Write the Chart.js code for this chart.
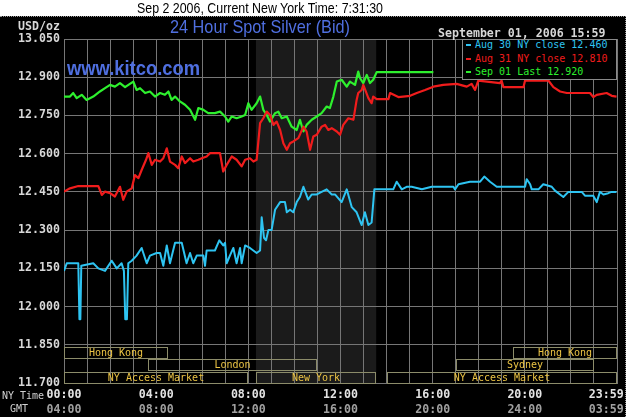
<!DOCTYPE html>
<html>
<head>
<meta charset="utf-8">
<script src="https://cdn.jsdelivr.net/npm/chart.js@4.4.0/dist/chart.umd.min.js"></script>
<style>
  html, body { margin: 0; padding: 0; background: #fff; }
  #wrap { position: relative; width: 629px; height: 417px; overflow: hidden; }
  #panel { position: absolute; left: 0; top: 16px; width: 626px; height: 401px; background: #000;
           border-top: 1px dotted #999; border-right: 1px dotted #999; box-sizing: border-box; }
  canvas { position: absolute; left: 0; top: 0; }
  .t { position: absolute; white-space: nowrap; transform-origin: 0 0; }
  .mono { font-family: "DejaVu Sans Mono", monospace; }
  #header { left: 137px; top: 0; font: 15px/16px "Liberation Sans", Arial, sans-serif; color: #000; }
  #title { left: 170px; top: 17px; font: 19px/19px "Liberation Sans", Arial, sans-serif; color: #4f6fe0; }
  #kitco { left: 67px; top: 58px; font: bold 20px/20px "Liberation Sans", Arial, sans-serif; color: #4f6fe0; }
  #stamp { left: 438px; top: 26px; font-size: 11.6px; font-weight: bold; line-height: 14px; color: #d8d8d8; }
  #unit { left: 18px; top: 19px; font-size: 11.6px; font-weight: bold; line-height: 14px; color: #d8d8d8; }
  #nyLbl { left: 2px; top: 390px; font-size: 10px; line-height: 12px; color: #d0d0d0; }
  #gmtLbl { left: 10px; top: 403px; font-size: 10px; line-height: 12px; color: #d0d0d0; }
  #legend { position: absolute; left: 462px; top: 39px; width: 155px; height: 41px; background: #000;
            border: 1px solid #8a8a8a; box-sizing: border-box; }
  #legend div { position: absolute; left: 12px; font-size: 10px; line-height: 12px; white-space: nowrap; }
  #legend span { position: absolute; left: -9px; top: 5px; width: 5px; height: 2px; }
</style>
</head>
<body>
<div id="wrap">
  <div id="panel"></div>
  <canvas id="silverChart" width="629" height="417"></canvas>
  <div id="header" class="t">Sep 2 2006, Current New York Time: 7:31:30</div>
  <div id="title" class="t">24 Hour Spot Silver (Bid)</div>
  <div id="kitco" class="t">www.kitco.com</div>
  <div id="stamp" class="t mono">September 01, 2006 15:59</div>
  <div id="unit" class="t mono">USD/oz</div>
  <div id="nyLbl" class="t mono">NY Time</div>
  <div id="gmtLbl" class="t mono">GMT</div>
  <div id="legend" class="mono"></div>
</div>
<script>
// ================= DATA =================
const X_MAX = 24;
const yTicks = [11.7, 11.85, 12.0, 12.15, 12.3, 12.45, 12.6, 12.75, 12.9, 13.05];
const nyTimeLabels = ["00:00", "04:00", "08:00", "12:00", "16:00", "20:00", "23:59"];
const gmtLabels = ["04:00", "08:00", "12:00", "16:00", "20:00", "24:00", "03:59"];
const labelHours = [0, 4, 8, 12, 16, 20, 23.983];

// Aug 30 (cyan)
const aug30Hours = [0, 0.12, 0.62, 0.67, 0.71, 0.75, 1.27, 1.49, 1.78, 2.07, 2.29, 2.5, 2.6, 2.66, 2.73, 2.79,
  2.94, 3.15, 3.37, 3.59, 3.73, 4.02, 4.17, 4.31, 4.46, 4.6, 4.82, 5.11, 5.32, 5.47, 5.61, 5.76, 6.05, 6.12,
  6.19, 6.55, 6.74, 6.91, 6.99, 7.06, 7.2, 7.35, 7.49, 7.64, 7.71, 7.86, 8.07, 8.36, 8.51, 8.58, 8.68, 8.77,
  8.87, 9.01, 9.16, 9.38, 9.59, 9.67, 9.81, 9.95, 10.1, 10.24, 10.39, 10.6, 10.75, 10.97, 11.18, 11.4, 11.62,
  11.76, 12.05, 12.27, 12.49, 12.7, 12.92, 13.06, 13.21, 13.35, 13.47, 14.29, 14.44, 14.66, 14.87, 15.09,
  15.53, 15.96, 16.9, 16.97, 17.12, 17.62, 18.06, 18.24, 18.49, 18.78, 20.01, 20.08, 20.23, 20.3, 20.59,
  20.8, 21.17, 21.31, 21.67, 21.89, 22.47, 22.61, 22.97, 23.12, 23.26, 23.41, 23.62, 23.77, 23.98];
const aug30Values = [12.14, 12.17, 12.17, 11.95, 11.95, 12.16, 12.17, 12.15, 12.14, 12.18, 12.15, 12.17, 12.14,
  11.95, 11.95, 12.17, 12.18, 12.2, 12.23, 12.17, 12.2, 12.21, 12.21, 12.16, 12.24, 12.17, 12.25, 12.25, 12.17,
  12.21, 12.17, 12.2, 12.2, 12.16, 12.22, 12.22, 12.26, 12.24, 12.25, 12.17, 12.2, 12.23, 12.17, 12.23, 12.17,
  12.24, 12.23, 12.21, 12.22, 12.35, 12.27, 12.26, 12.3, 12.3, 12.38, 12.41, 12.41, 12.37, 12.38, 12.37, 12.41,
  12.43, 12.47, 12.42, 12.44, 12.44, 12.45, 12.46, 12.44, 12.44, 12.41, 12.46, 12.39, 12.37, 12.32, 12.37,
  12.32, 12.33, 12.46, 12.46, 12.49, 12.46, 12.47, 12.47, 12.46, 12.47, 12.47, 12.46, 12.48, 12.49, 12.49,
  12.51, 12.49, 12.47, 12.47, 12.5, 12.48, 12.46, 12.46, 12.48, 12.47, 12.455, 12.43, 12.45, 12.45, 12.435,
  12.435, 12.41, 12.45, 12.44, 12.445, 12.45, 12.45];

// Aug 31 (red)
const aug31Hours = [0, 0.26, 0.62, 1.49, 1.64, 1.78, 2, 2.21, 2.43, 2.57, 2.72, 2.94, 3.08, 3.23, 3.37, 3.56,
  3.66, 3.81, 3.95, 4.17, 4.31, 4.46, 4.6, 4.82, 4.96, 5.11, 5.25, 5.47, 5.61, 5.83, 5.98, 6.19, 6.34, 6.77,
  6.91, 7.06, 7.28, 7.49, 7.71, 7.86, 8.07, 8.22, 8.36, 8.51, 8.65, 8.8, 8.94, 9.09, 9.23, 9.38, 9.52, 9.67,
  9.81, 9.95, 10.17, 10.39, 10.53, 10.68, 10.82, 10.97, 11.18, 11.33, 11.47, 11.62, 11.84, 11.98, 12.12,
  12.34, 12.56, 12.7, 12.77, 12.92, 12.99, 13.21, 13.35, 13.42, 13.57, 14.08, 14.15, 14.51, 15.02, 15.31,
  15.67, 16.03, 16.46, 17.04, 17.48, 17.69, 17.84, 17.98, 18.92, 18.99, 19.07, 19.94, 20.01, 21.02, 21.24,
  21.53, 21.82, 22.83, 22.97, 23.12, 23.55, 23.77, 23.98];
const aug31Values = [12.451, 12.464, 12.473, 12.473, 12.438, 12.451, 12.445, 12.432, 12.47, 12.419, 12.451,
  12.464, 12.516, 12.504, 12.536, 12.576, 12.602, 12.556, 12.576, 12.569, 12.582, 12.621, 12.569, 12.556,
  12.543, 12.589, 12.563, 12.582, 12.569, 12.576, 12.582, 12.589, 12.602, 12.602, 12.53, 12.556, 12.589,
  12.576, 12.55, 12.576, 12.582, 12.569, 12.576, 12.72, 12.739, 12.765, 12.752, 12.713, 12.726, 12.693,
  12.641, 12.615, 12.641, 12.648, 12.661, 12.706, 12.687, 12.615, 12.667, 12.674, 12.706, 12.713, 12.693,
  12.7, 12.687, 12.674, 12.713, 12.739, 12.733, 12.811, 12.838, 12.85, 12.87, 12.818, 12.798, 12.824, 12.814,
  12.814, 12.838, 12.822, 12.827, 12.838, 12.85, 12.863, 12.87, 12.874, 12.863, 12.874, 12.85, 12.887,
  12.877, 12.887, 12.861, 12.861, 12.887, 12.887, 12.861, 12.844, 12.838, 12.838, 12.822, 12.831, 12.838,
  12.827, 12.824];

// Sep 01 (green)
const sep01Hours = [0, 0.26, 0.4, 0.55, 0.77, 0.98, 1.27, 1.56, 1.78, 2, 2.21, 2.43, 2.65, 2.86, 3.01, 3.15,
  3.3, 3.52, 3.73, 3.95, 4.17, 4.38, 4.53, 4.67, 4.82, 5.03, 5.25, 5.47, 5.69, 5.83, 6.05, 6.26, 6.55, 6.77,
  6.99, 7.13, 7.28, 7.49, 7.71, 7.86, 8, 8.14, 8.36, 8.51, 8.65, 8.8, 8.94, 9.16, 9.3, 9.45, 9.67, 9.88,
  10.1, 10.24, 10.39, 10.53, 10.75, 10.97, 11.18, 11.4, 11.54, 11.69, 11.84, 12.05, 12.27, 12.41, 12.63,
  12.77, 12.85, 12.99, 13.14, 13.28, 13.42, 13.57, 16.03];
const sep01Values = [12.824, 12.824, 12.838, 12.818, 12.831, 12.811, 12.824, 12.844, 12.857, 12.87, 12.863,
  12.877, 12.861, 12.874, 12.883, 12.85, 12.857, 12.838, 12.844, 12.824, 12.838, 12.831, 12.844, 12.811,
  12.824, 12.805, 12.792, 12.772, 12.733, 12.779, 12.772, 12.759, 12.759, 12.765, 12.746, 12.726, 12.746,
  12.739, 12.746, 12.752, 12.798, 12.772, 12.798, 12.824, 12.772, 12.752, 12.726, 12.759, 12.765, 12.739,
  12.746, 12.706, 12.693, 12.733, 12.687, 12.713, 12.733, 12.746, 12.759, 12.785, 12.779, 12.824, 12.883,
  12.89, 12.863, 12.883, 12.87, 12.922, 12.896, 12.877, 12.909, 12.877, 12.89, 12.92, 12.92];

const legendLabels = ["Aug 30 NY close 12.460", "Aug 31 NY close 12.810", "Sep 01 Last 12.920"];
const seriesColors = ["#2ec4f2", "#f01c1c", "#2ef02e"];

// trading sessions (hours, NY time)
const sessionNames = ["Hong Kong", "Hong Kong", "London", "Sydney", "NY Access Market", "New York", "NY Access Market"];
const sessionStart = [0, 19.5, 3.65, 17, 0, 8.33, 14];
const sessionEnd = [4.5, 24, 11, 23, 8, 13.55, 24];
const sessionRow = [0, 0, 1, 1, 2, 2, 2];

// ================= HTML TEXT =================
function fitWidth(id, w) {
  const el = document.getElementById(id);
  const real = el.getBoundingClientRect().width;
  el.style.transform = "scaleX(" + (w / real) + ")";
}
fitWidth("header", 246);
fitWidth("title", 180);
fitWidth("kitco", 133);

const legendBox = document.getElementById("legend");
legendLabels.forEach((text, i) => {
  const row = document.createElement("div");
  row.style.top = (i * 13.5 - 1) + "px";
  row.style.color = seriesColors[i];
  row.textContent = text;
  const dash = document.createElement("span");
  dash.style.background = seriesColors[i];
  row.appendChild(dash);
  legendBox.appendChild(row);
});

// ================= PLUGINS =================
const GRID = "#767676";
const MONO = "DejaVu Sans Mono";

const nySession = sessionNames.indexOf("New York");

const shadePlugin = {
  id: "shade",
  beforeDraw(chart) {
    const { ctx, chartArea, scales } = chart;
    const x0 = scales.x.getPixelForValue(sessionStart[nySession]);
    const x1 = scales.x.getPixelForValue(sessionEnd[nySession]);
    ctx.save();
    ctx.fillStyle = "#1b1b1b";
    ctx.fillRect(x0, chartArea.top, x1 - x0, chartArea.bottom - chartArea.top);
    ctx.restore();
  },
};

const sessionPlugin = {
  id: "sessions",
  afterDatasetsDraw(chart) {
    const { ctx, chartArea, scales } = chart;
    const rowH = 12.5;
    ctx.save();
    ctx.font = "10px " + MONO;
    ctx.textAlign = "center";
    ctx.textBaseline = "middle";
    sessionNames.forEach((name, i) => {
      const x0 = Math.round(scales.x.getPixelForValue(sessionStart[i])) + 0.5;
      const x1 = Math.round(scales.x.getPixelForValue(sessionEnd[i])) - 0.5;
      const bottom = chartArea.bottom - (2 - sessionRow[i]) * rowH;
      const top = Math.round(bottom - 11.5) + 0.5;
      ctx.strokeStyle = "#8c8c6a";
      ctx.lineWidth = 1;
      ctx.strokeRect(x0, top, x1 - x0, 11);
      ctx.fillStyle = "#ecc444";
      ctx.fillText(name, (x0 + x1) / 2, top + 6);
    });
    ctx.restore();
  },
};

// ================= CHART =================
function series(hours, values) {
  return hours.map((h, i) => ({ x: h, y: values[i] }));
}

// the closing label is pulled inside the frame so it is not cut off
function labelTicks(scale) {
  scale.ticks = labelHours.map((h) => ({ value: Math.min(h, X_MAX - 0.47) }));
}

new Chart(document.getElementById("silverChart"), {
  type: "line",
  data: {
    datasets: [
      { label: legendLabels[0], data: series(aug30Hours, aug30Values), borderColor: seriesColors[0], borderWidth: 2 },
      { label: legendLabels[1], data: series(aug31Hours, aug31Values), borderColor: seriesColors[1], borderWidth: 2.2 },
      { label: legendLabels[2], data: series(sep01Hours, sep01Values), borderColor: seriesColors[2], borderWidth: 2.2 },
    ],
  },
  options: {
    responsive: false,
    animation: false,
    layout: { padding: { top: 39, right: 12, left: 0, bottom: 0 } },
    elements: { point: { radius: 0 }, line: { tension: 0, borderJoinStyle: "round" } },
    plugins: { legend: { display: false }, tooltip: { enabled: false } },
    scales: {
      x: {
        type: "linear",
        min: 0,
        max: X_MAX,
        afterBuildTicks: (s) => {
          s.ticks = [];
          for (let h = 0; h <= X_MAX; h++) s.ticks.push({ value: h });
        },
        grid: { color: GRID, drawTicks: false },
        border: { color: GRID },
        ticks: { display: false },
        afterFit: (s) => { s.height = 0; },
      },
      xNY: {
        type: "linear",
        position: "bottom",
        weight: 1,
        min: 0,
        max: X_MAX,
        afterBuildTicks: labelTicks,
        grid: { display: false, drawTicks: false },
        border: { display: false },
        ticks: {
          autoSkip: false,
          maxRotation: 0,
          padding: 5,
          color: "#e4e4e4",
          font: { family: MONO, size: 11.6, weight: "bold" },
          callback: (v, i) => nyTimeLabels[i],
        },
        afterFit: (s) => { s.height = 20; },
      },
      xGMT: {
        type: "linear",
        position: "bottom",
        weight: 2,
        min: 0,
        max: X_MAX,
        afterBuildTicks: labelTicks,
        grid: { display: false, drawTicks: false },
        border: { display: false },
        ticks: {
          autoSkip: false,
          maxRotation: 0,
          padding: 0,
          color: "#a0a0a0",
          font: { family: MONO, size: 11.6, weight: "bold" },
          callback: (v, i) => gmtLabels[i],
        },
        afterFit: (s) => { s.height = 14; },
      },
      y: {
        min: yTicks[0],
        max: yTicks[yTicks.length - 1],
        afterBuildTicks: (s) => { s.ticks = yTicks.map((v) => ({ value: v })); },
        grid: { color: GRID, drawTicks: false },
        border: { color: GRID },
        ticks: {
          padding: 4,
          color: "#d8d8d8",
          font: { family: MONO, size: 11.6, weight: "bold" },
          callback: (v) => v.toFixed(3),
        },
        afterFit: (s) => { s.width = 64; },
      },
    },
  },
  plugins: [shadePlugin, sessionPlugin],
});
</script>
</body>
</html>
